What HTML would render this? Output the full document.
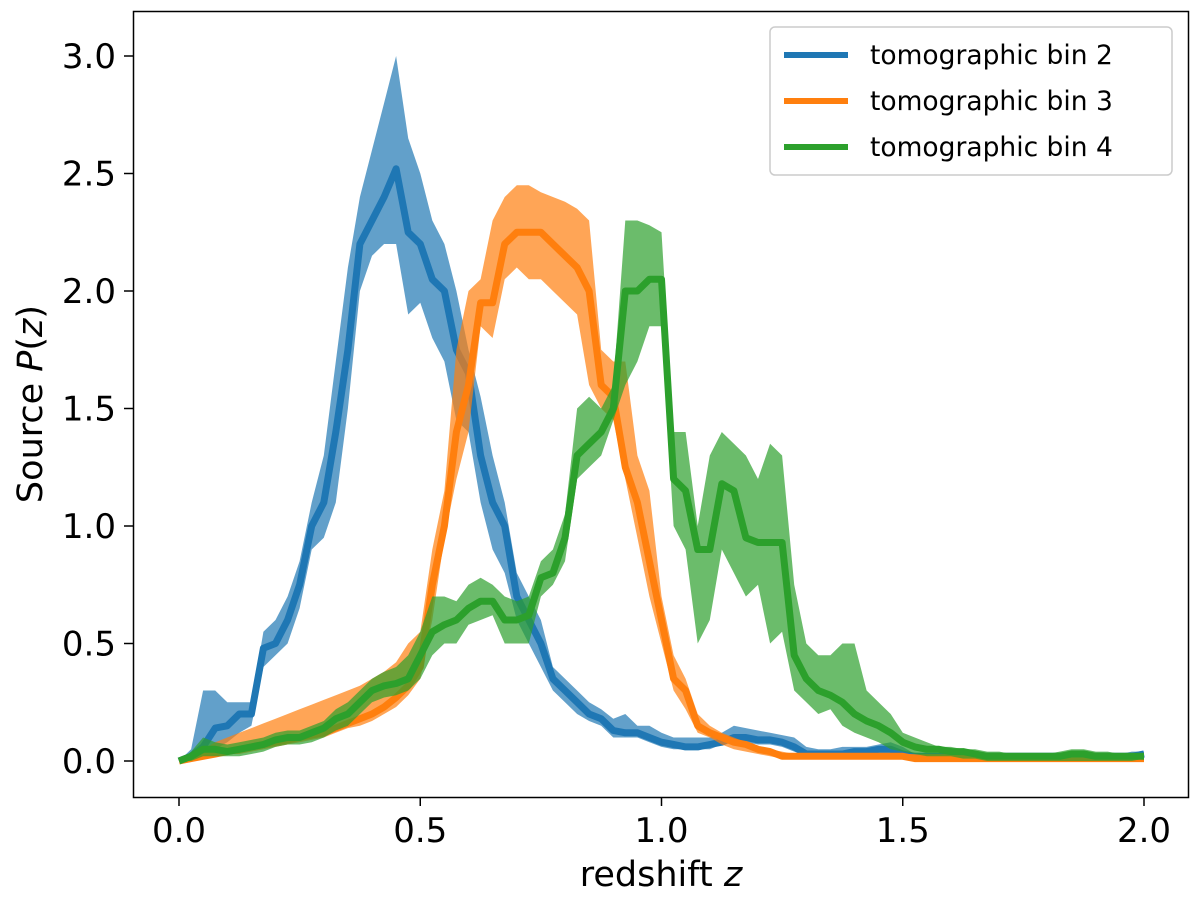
<!DOCTYPE html>
<html><head><meta charset="utf-8"><style>
html,body{margin:0;padding:0;background:#fff;}
svg text{font-family:"DejaVu Sans","Liberation Sans",sans-serif;fill:#000;}
</style></head><body>
<svg id="chart" width="1200" height="906" viewBox="0 0 1200 906" xmlns="http://www.w3.org/2000/svg">
<rect x="0" y="0" width="1200" height="906" fill="#fff"/>
<g id="series"></g>
<rect x="133.5" y="11.5" width="1055" height="786" fill="none" stroke="#000" stroke-width="1.5"/>
<g id="xticks"></g>
<g id="yticks"></g>
<text x="661" y="886" font-size="35" text-anchor="middle">redshift <tspan font-style="italic">z</tspan></text>
<text transform="translate(42,404) rotate(-90)" font-size="35" text-anchor="middle">Source <tspan font-style="italic">P</tspan>(<tspan font-style="italic">z</tspan>)</text>
<g>
<rect x="770" y="27" width="402" height="148" rx="5" fill="#fff" fill-opacity="0.8" stroke="#ccc" stroke-width="1.5"/>
<g><line x1="784" x2="848" y1="55" y2="55" stroke="#1f77b4" stroke-width="6"/><text x="870" y="64" font-size="26.5">tomographic bin 2</text></g>
<g><line x1="784" x2="848" y1="101" y2="101" stroke="#ff7f0e" stroke-width="6"/><text x="870" y="110" font-size="26.5">tomographic bin 3</text></g>
<g><line x1="784" x2="848" y1="147" y2="147" stroke="#2ca02c" stroke-width="6"/><text x="870" y="156" font-size="26.5">tomographic bin 4</text></g>
</g>
</svg>
<script>
const zStep = 0.025;
const xTicks = [0.0, 0.5, 1.0, 1.5, 2.0];
const xTickLabels = ["0.0","0.5","1.0","1.5","2.0"];
const yTicks = [0.0, 0.5, 1.0, 1.5, 2.0, 2.5, 3.0];
const yTickLabels = ["0.0","0.5","1.0","1.5","2.0","2.5","3.0"];
const bin2Mean = [0,0.02,0.06,0.14,0.15,0.2,0.2,0.48,0.5,0.6,0.75,1.0,1.1,1.4,1.75,2.2,2.3,2.4,2.52,2.25,2.2,2.05,2.0,1.75,1.65,1.3,1.1,1.0,0.7,0.6,0.5,0.35,0.3,0.25,0.2,0.18,0.13,0.12,0.12,0.1,0.08,0.07,0.06,0.06,0.07,0.08,0.1,0.1,0.09,0.09,0.08,0.06,0.03,0.03,0.03,0.03,0.04,0.04,0.05,0.05,0.03,0.02,0.02,0.02,0.02,0.02,0.02,0.02,0.02,0.02,0.02,0.02,0.02,0.02,0.02,0.02,0.02,0.02,0.02,0.02,0.03];
const bin2Hi = [0,0.05,0.3,0.3,0.25,0.25,0.25,0.55,0.6,0.7,0.85,1.1,1.3,1.7,2.1,2.4,2.6,2.8,3.0,2.65,2.5,2.3,2.2,2.0,1.75,1.55,1.3,1.1,0.8,0.7,0.6,0.4,0.35,0.3,0.25,0.22,0.18,0.2,0.15,0.15,0.12,0.1,0.1,0.1,0.1,0.12,0.15,0.14,0.13,0.12,0.11,0.1,0.06,0.05,0.05,0.06,0.06,0.06,0.07,0.08,0.06,0.03,0.03,0.03,0.03,0.03,0.03,0.03,0.03,0.03,0.03,0.03,0.03,0.03,0.03,0.03,0.03,0.03,0.03,0.04,0.04];
const bin2Lo = [0,0,0.02,0.05,0.08,0.12,0.15,0.4,0.45,0.5,0.65,0.9,0.95,1.1,1.5,2.0,2.15,2.2,2.2,1.9,1.95,1.8,1.7,1.45,1.4,1.1,0.9,0.8,0.6,0.5,0.4,0.3,0.25,0.2,0.17,0.15,0.1,0.1,0.1,0.08,0.06,0.05,0.05,0.05,0.05,0.07,0.08,0.08,0.07,0.07,0.06,0.04,0.02,0.02,0.01,0.01,0.01,0.01,0.01,0.01,0.01,0.01,0.01,0.01,0.01,0.01,0.01,0.01,0.01,0.01,0.01,0.01,0.01,0.01,0.01,0.01,0.01,0.01,0.01,0.01,0.01];
const bin3Mean = [0,0.01,0.02,0.03,0.04,0.05,0.06,0.07,0.08,0.09,0.1,0.11,0.12,0.14,0.16,0.18,0.2,0.23,0.27,0.32,0.4,0.75,1.0,1.4,1.6,1.95,1.95,2.2,2.25,2.25,2.25,2.2,2.15,2.1,2.0,1.6,1.55,1.25,1.1,0.85,0.6,0.35,0.3,0.15,0.12,0.1,0.08,0.07,0.05,0.04,0.02,0.02,0.02,0.02,0.02,0.02,0.02,0.02,0.02,0.02,0.02,0.01,0.01,0.01,0.01,0.01,0.01,0.01,0.01,0.01,0.01,0.01,0.01,0.01,0.01,0.01,0.01,0.01,0.01,0.01,0.01];
const bin3Hi = [0,0.02,0.05,0.08,0.1,0.12,0.14,0.16,0.18,0.2,0.22,0.24,0.26,0.28,0.3,0.32,0.35,0.38,0.42,0.5,0.55,0.9,1.15,1.75,2.0,2.05,2.3,2.4,2.45,2.45,2.42,2.4,2.38,2.35,2.3,1.75,1.7,1.7,1.3,1.15,0.7,0.45,0.35,0.2,0.15,0.12,0.1,0.08,0.06,0.05,0.04,0.03,0.03,0.03,0.03,0.03,0.03,0.03,0.03,0.03,0.03,0.03,0.03,0.03,0.03,0.03,0.02,0.02,0.02,0.02,0.02,0.02,0.02,0.02,0.02,0.02,0.02,0.02,0.02,0.02,0.02];
const bin3Lo = [0,0,0.01,0.02,0.03,0.03,0.04,0.05,0.06,0.07,0.08,0.09,0.1,0.12,0.14,0.15,0.17,0.2,0.23,0.28,0.35,0.6,0.95,1.2,1.4,1.85,1.8,2.05,2.1,2.05,2.05,2.0,1.95,1.9,1.6,1.5,1.45,1.2,0.95,0.7,0.5,0.3,0.22,0.12,0.1,0.07,0.05,0.04,0.03,0.02,0.01,0.01,0.01,0.01,0.01,0.01,0.01,0.01,0.01,0.01,0.01,0,0,0,0,0,0,0,0,0,0,0,0,0,0,0,0,0,0,0,0];
const bin4Mean = [0,0.02,0.05,0.05,0.04,0.05,0.06,0.07,0.09,0.1,0.1,0.12,0.14,0.18,0.2,0.25,0.3,0.32,0.33,0.35,0.45,0.55,0.58,0.6,0.65,0.68,0.68,0.6,0.6,0.62,0.78,0.8,0.95,1.3,1.35,1.4,1.5,2.0,2.0,2.05,2.05,1.2,1.15,0.9,0.9,1.18,1.15,0.95,0.93,0.93,0.93,0.45,0.35,0.3,0.28,0.25,0.2,0.17,0.15,0.12,0.08,0.06,0.05,0.05,0.04,0.04,0.03,0.02,0.02,0.02,0.02,0.02,0.02,0.02,0.03,0.03,0.02,0.02,0.02,0.02,0.02];
const bin4Hi = [0,0.04,0.1,0.08,0.07,0.08,0.09,0.1,0.12,0.13,0.13,0.15,0.17,0.22,0.25,0.3,0.35,0.38,0.4,0.45,0.55,0.7,0.7,0.68,0.75,0.78,0.75,0.7,0.68,0.7,0.85,0.9,1.05,1.5,1.55,1.5,1.6,2.3,2.3,2.28,2.25,1.4,1.4,1.0,1.3,1.4,1.35,1.3,1.2,1.35,1.3,0.75,0.5,0.45,0.45,0.5,0.5,0.3,0.25,0.2,0.12,0.1,0.08,0.06,0.06,0.05,0.05,0.04,0.04,0.03,0.03,0.03,0.03,0.04,0.05,0.05,0.04,0.04,0.03,0.03,0.03];
const bin4Lo = [0,0,0.02,0.02,0.02,0.02,0.03,0.04,0.06,0.07,0.07,0.08,0.1,0.13,0.15,0.2,0.25,0.27,0.28,0.3,0.35,0.45,0.5,0.5,0.58,0.6,0.62,0.5,0.5,0.5,0.7,0.75,0.85,1.2,1.25,1.3,1.45,1.6,1.7,1.85,1.85,1.0,0.9,0.5,0.6,0.9,0.8,0.7,0.75,0.5,0.55,0.3,0.25,0.2,0.22,0.15,0.12,0.1,0.08,0.05,0.04,0.03,0.02,0.02,0.02,0.01,0.01,0,0,0,0,0,0,0,0,0,0,0,0,0,0.01];

const NS = "http://www.w3.org/2000/svg";
function xs(z){ return 179 + z * 482.5; }
function ys(v){ return 761 - v * 235; }

const series = document.getElementById('series');
const defs = [
  {name:'bin-2', color:'#1f77b4', mean:bin2Mean, lo:bin2Lo, hi:bin2Hi},
  {name:'bin-3', color:'#ff7f0e', mean:bin3Mean, lo:bin3Lo, hi:bin3Hi},
  {name:'bin-4', color:'#2ca02c', mean:bin4Mean, lo:bin4Lo, hi:bin4Hi}
];
defs.forEach(function(s){
  const n = Math.min(s.lo.length, s.hi.length);
  let pts = [];
  for (let i = 0; i < n; i++) pts.push(xs(i*zStep).toFixed(1)+','+ys(s.hi[i]).toFixed(1));
  for (let i = n-1; i >= 0; i--) pts.push(xs(i*zStep).toFixed(1)+','+ys(s.lo[i]).toFixed(1));
  const poly = document.createElementNS(NS,'polygon');
  poly.setAttribute('points', pts.join(' '));
  poly.setAttribute('fill', s.color);
  poly.setAttribute('fill-opacity', '0.7');
  
  
  series.appendChild(poly);
  const line = document.createElementNS(NS,'polyline');
  line.setAttribute('points', s.mean.map(function(v,i){return xs(i*zStep).toFixed(1)+','+ys(v).toFixed(1);}).join(' '));
  line.setAttribute('fill','none');
  line.setAttribute('stroke', s.color);
  line.setAttribute('stroke-width','7');
  line.setAttribute('stroke-linejoin','round');
  
  
  series.appendChild(line);
});

const xg = document.getElementById('xticks');
xTicks.forEach(function(t,i){
  const l = document.createElementNS(NS,'line');
  l.setAttribute('x1', xs(t)); l.setAttribute('x2', xs(t));
  l.setAttribute('y1', 797); l.setAttribute('y2', 806);
  l.setAttribute('stroke','#000'); l.setAttribute('stroke-width','1.5');
  
  
  xg.appendChild(l);
  const tx = document.createElementNS(NS,'text');
  tx.setAttribute('x', xs(t)); tx.setAttribute('y', 842);
  tx.setAttribute('font-size','34'); tx.setAttribute('text-anchor','middle');
  tx.textContent = xTickLabels[i];
  
  
  xg.appendChild(tx);
});
const yg = document.getElementById('yticks');
yTicks.forEach(function(t,i){
  const l = document.createElementNS(NS,'line');
  l.setAttribute('x1', 124); l.setAttribute('x2', 133);
  l.setAttribute('y1', ys(t)); l.setAttribute('y2', ys(t));
  l.setAttribute('stroke','#000'); l.setAttribute('stroke-width','1.5');
  
  
  yg.appendChild(l);
  const tx = document.createElementNS(NS,'text');
  tx.setAttribute('x', 116); tx.setAttribute('y', ys(t)+12);
  tx.setAttribute('font-size','34'); tx.setAttribute('text-anchor','end');
  tx.textContent = yTickLabels[i];
  
  
  yg.appendChild(tx);
});
</script>
</body></html>
